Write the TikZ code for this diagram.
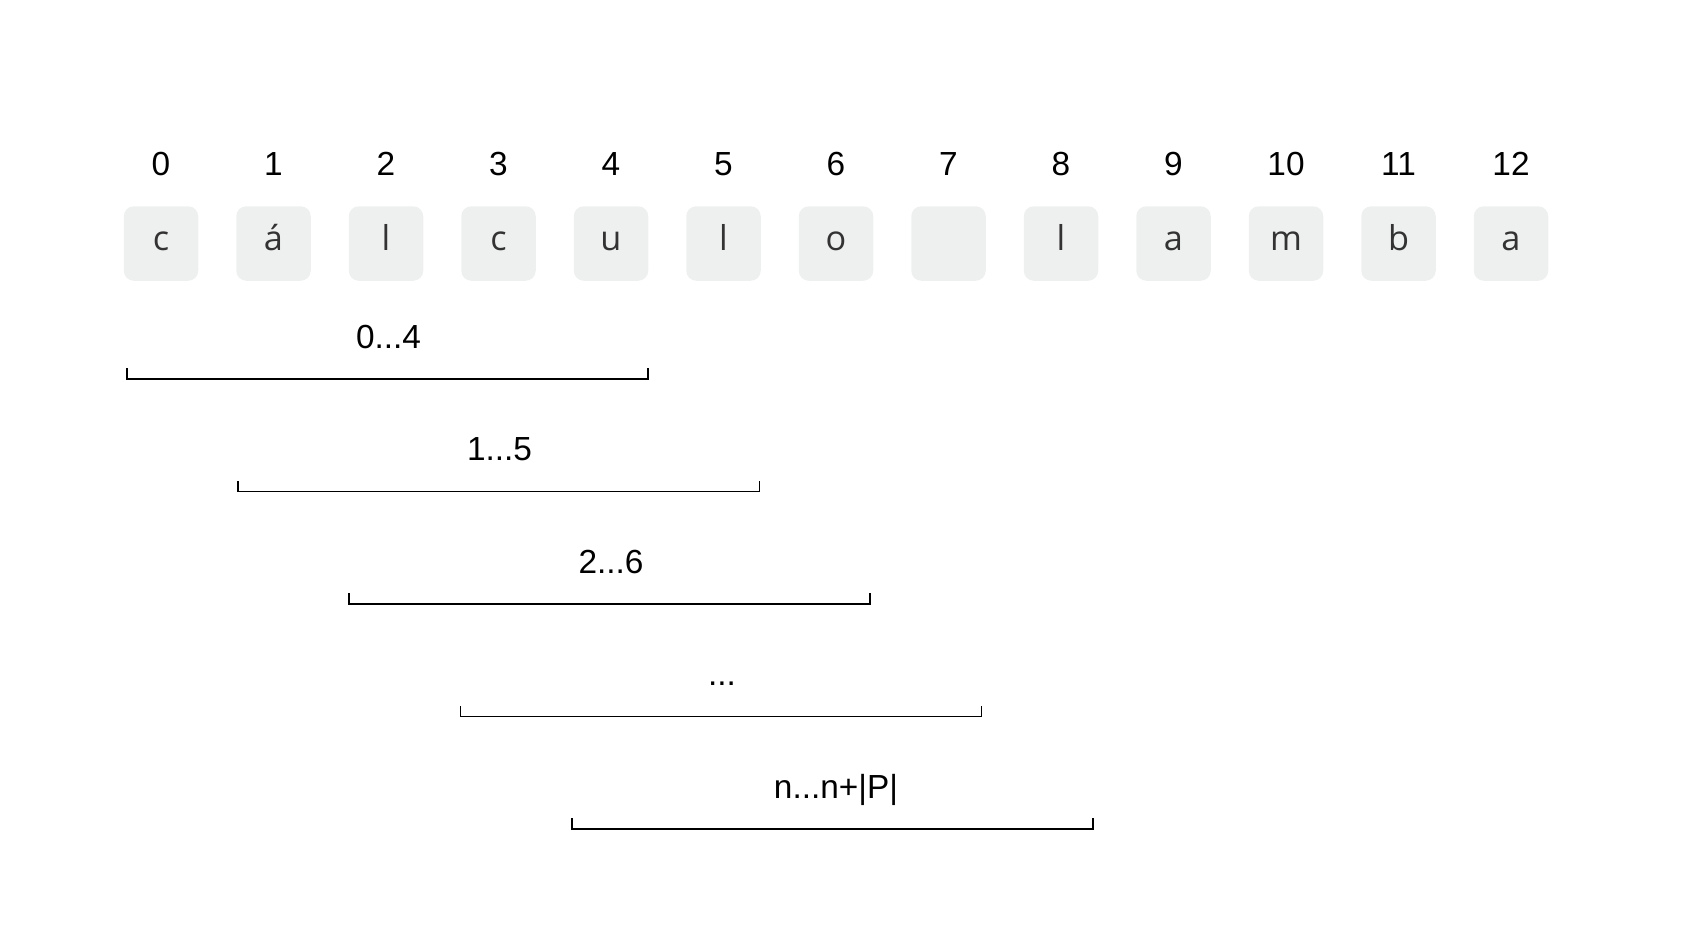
\documentclass[tikz,border=0pt]{standalone}
\usepackage{fontspec}
\setmainfont{Liberation Sans}
\newfontfamily\letrafont{Open Sans}
\definecolor{cajita}{HTML}{EEF0EF}
\definecolor{letra}{HTML}{333333}

\tikzset{
    casilla/.style={fill=cajita, rounded corners=0.2cm, minimum size=1.49cm, inner sep=0pt,
        text height=0.26cm, text depth=0pt, text=letra, font=\letrafont\fontsize{19.5}{20}\selectfont},
    indice/.style={anchor=base, font=\fontsize{19}{20}\selectfont},
    rotulo/.style={anchor=base, font=\fontsize{19}{20}\selectfont},
    tramo/.style={draw=black, line cap=rect}
}

\begin{document}
\begin{tikzpicture}
    \useasboundingbox (0, 0) rectangle (33.78, -18.78);

    \foreach \i / \c in {0/c, 1/á, 2/l, 3/c, 4/u, 5/l, 6/o, 7/{}, 8/l, 9/a, 10/m, 11/b, 12/a}
        \node[casilla] (c\i) at (3.22 + 2.25*\i, -4.87) {\c};

    \foreach \i in {0,...,12}
        \node[indice] (n\i) at (3.22 + 2.25*\i, -3.5) {\i};

    \foreach \r / \g in {0/1.1pt, 1/0.75pt, 2/1.1pt, 3/0.75pt, 4/1.1pt}
    {
        \coordinate (a\r) at (2.54 + 2.223*\r, -7.58 - 2.25*\r);
        \coordinate (b\r) at (12.96 + 2.223*\r, -7.58 - 2.25*\r);
        \draw[tramo, line width=\g] ([yshift=0.2cm] a\r) -- (a\r) -- (b\r) -- ([yshift=0.2cm] b\r);
    }

    \node[rotulo] (t0) at (7.77, -6.96) {0...4};
    \node[rotulo] (t1) at (9.99, -9.21) {1...5};
    \node[rotulo] (t2) at (12.22, -11.46) {2...6};
    \node[rotulo] (t3) at (14.44, -13.71) {...};
    \node[rotulo] (t4) at (16.72, -15.96) {n...n+|P|};
\end{tikzpicture}
\end{document}
